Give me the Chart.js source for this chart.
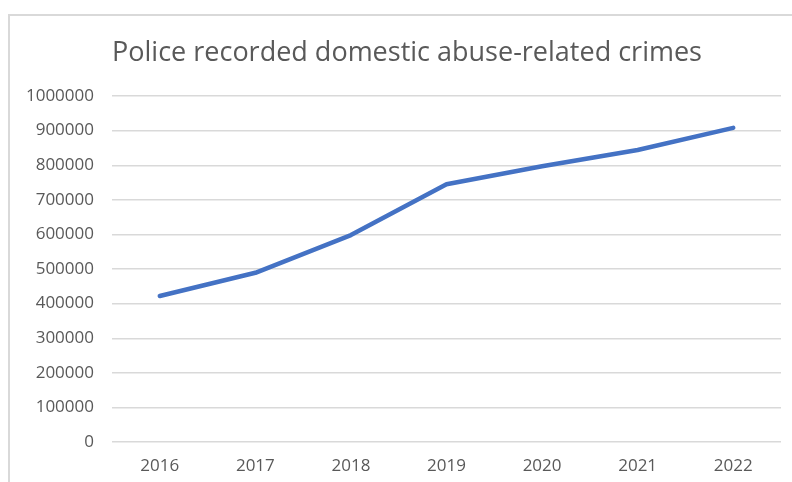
<!DOCTYPE html>
<html>
<head>
<meta charset="utf-8">
<script src="https://cdn.jsdelivr.net/npm/chart.js@4/dist/chart.umd.min.js"></script>
<style>
  html, body { margin: 0; padding: 0; background: #fff; overflow: hidden; }
  #frame { position: absolute; left: 8px; top: 14px; width: 800px; height: 480px;
           border: 2px solid #d9d9d9; box-sizing: border-box; }
  #wrap { position: absolute; left: 0; top: 0; width: 792px; height: 482px; }
</style>
</head>
<body>
<div id="frame"></div>
<div id="wrap"><canvas id="chart"></canvas></div>
<script>
// Police recorded domestic abuse-related crimes, by year
const years = ['2016', '2017', '2018', '2019', '2020', '2021', '2022'];
const crimes = [422000, 489000, 598000, 745000, 797000, 844000, 908000];
const yMin = 0;
const yMax = 1000000;
const yStep = 100000;

const titleText = 'Police recorded domestic abuse-related crimes';
const textColor = '#595959';
const gridColor = '#d9d9d9';
const font = 'Open Sans';

// the title is centred on the outer frame, which runs wider than the canvas,
// so it is drawn here instead of by the title plugin
const frameTitle = {
  id: 'frameTitle',
  afterDraw(chart) {
    const c = chart.ctx;
    c.save();
    c.font = `27px "${font}"`;
    c.fillStyle = textColor;
    c.textAlign = 'center';
    c.textBaseline = 'alphabetic';
    c.fillText(titleText, 407, 61);
    c.restore();
  }
};

const ctx = document.getElementById('chart').getContext('2d');
new Chart(ctx, {
  type: 'line',
  data: {
    labels: years,
    datasets: [{
      label: 'Crimes',
      data: crimes,
      borderColor: '#4472c4',
      borderWidth: 4.5,
      borderCapStyle: 'round',
      borderJoinStyle: 'round',
      pointRadius: 0,
      tension: 0,
      fill: false
    }]
  },
  options: {
    responsive: true,
    maintainAspectRatio: false,
    animation: false,
    layout: { padding: { left: 0, right: 11, top: 96, bottom: 0 } },
    scales: {
      x: {
        offset: true,
        grid: { display: false, drawTicks: false },
        border: { display: false },
        ticks: { color: textColor, padding: 14, font: { family: font, size: 17 } },
        afterFit: s => { s.height = 40; }
      },
      y: {
        min: yMin,
        max: yMax,
        grid: { color: gridColor, lineWidth: 1.4, drawTicks: false },
        border: { display: false },
        ticks: {
          stepSize: yStep,
          color: textColor,
          padding: 18,
          font: { family: font, size: 17 },
          callback: v => String(v)   // plain numbers, no thousands separator
        },
        afterFit: s => { s.width = 112; }
      }
    },
    plugins: {
      legend: { display: false },
      tooltip: { enabled: false },
      title: { display: false }
    }
  },
  plugins: [frameTitle]
});
</script>
</body>
</html>
